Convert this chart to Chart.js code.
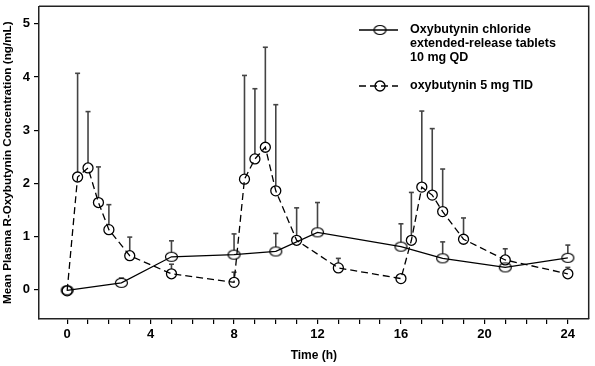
<!DOCTYPE html>
<html><head><meta charset="utf-8">
<script src="https://cdn.jsdelivr.net/npm/chart.js@4/dist/chart.umd.min.js"></script>
<style>html,body{margin:0;padding:0;background:#fff}#wrap{width:595px;height:366px;position:relative}</style>
</head><body><div id="wrap"><canvas id="c" width="595" height="366"></canvas></div>
<script>
// ---- data ----
const qdTimes  = [0, 2.6, 5, 8, 10, 12, 16, 18, 21, 24];
const qdMeans  = [-0.01, 0.13, 0.62, 0.66, 0.72, 1.08, 0.81, 0.59, 0.42, 0.60];
const qdUpper  = [null, 0.22, 0.92, 1.05, 1.06, 1.64, 1.24, 0.90, null, 0.84];
const tidTimes = [0, 0.5, 1, 1.5, 2, 3, 5, 8, 8.5, 9, 9.5, 10, 11, 13, 16, 16.5, 17, 17.5, 18, 19, 21, 24];
const tidMeans = [-0.02, 2.12, 2.29, 1.64, 1.13, 0.64, 0.30, 0.14, 2.08, 2.46, 2.68, 1.86, 0.93, 0.41, 0.21, 0.93, 1.93, 1.78, 1.47, 0.95, 0.56, 0.30];
const tidUpper = [null, 4.07, 3.35, 2.31, 1.60, 0.99, 0.48, 0.33, 4.03, 3.78, 4.56, 3.48, 1.54, 0.59, null, 1.83, 3.36, 3.03, 2.27, 1.35, 0.77, 0.42];
const xTickValues = [0,1,2,3,4,5,6,7,8,9,10,11,12,13,14,15,16,17,18,19,20,21,22,23,24];
const xTickLabels = [0, 4, 8, 12, 16, 20, 24];
const yTickValues = [0, 1, 2, 3, 4, 5];
const seriesNames = ['Oxybutynin chloride\nextended-release tablets\n10 mg QD', 'oxybutynin 5 mg TID'];
const xTitle = 'Time (h)';
const yTitle = 'Mean Plasma R-Oxybutynin Concentration (ng/mL)';

const FAMILY = '"Liberation Sans", Arial, sans-serif';

function ellipseImg(w, h) {
  const c = document.createElement('canvas');
  c.width = w + 3; c.height = h + 3;
  const g = c.getContext('2d');
  g.lineWidth = 1.2; g.strokeStyle = '#000';
  g.beginPath(); g.ellipse(c.width / 2, c.height / 2, w / 2, h / 2, 0, 0, Math.PI * 2); g.stroke();
  return c;
}
const qdMarker = ellipseImg(12, 9);

const errorBars = {
  id: 'errorBars',
  beforeDatasetsDraw(chart) {
    const {ctx, scales: {x, y}} = chart;
    const sets = [[qdTimes, qdMeans, qdUpper, 4.5], [tidTimes, tidMeans, tidUpper, 5]];
    ctx.save();
    ctx.strokeStyle = '#444'; ctx.lineWidth = 1.6;
    sets.forEach(([t, m, u, r]) => {
      t.forEach((tv, i) => {
        if (u[i] == null) return;
        const px = x.getPixelForValue(tv);
        const y0 = y.getPixelForValue(m[i]) - r;
        const y1 = y.getPixelForValue(u[i]);
        ctx.beginPath(); ctx.moveTo(px, y0); ctx.lineTo(px, y1); ctx.stroke();
        ctx.beginPath(); ctx.moveTo(px - 2.5, y1); ctx.lineTo(px + 2.5, y1); ctx.stroke();
      });
    });
    ctx.restore();
  }
};

const frame = {
  id: 'frame',
  afterDraw(chart) {
    const {ctx, chartArea: a} = chart;
    ctx.save();
    ctx.strokeStyle = '#222'; ctx.lineWidth = 1.5;
    ctx.beginPath();
    ctx.moveTo(a.left, a.top); ctx.lineTo(a.right, a.top); ctx.lineTo(a.right, a.bottom);
    ctx.stroke();
    ctx.restore();
  }
};

const legendBox = {
  id: 'legendBox',
  afterDraw(chart) {
    const ctx = chart.ctx;
    ctx.save();
    const x0 = 359, x1 = 398, mx = 380, tx = 410;
    let yy = 30;
    ctx.strokeStyle = '#000'; ctx.lineWidth = 1.3; ctx.setLineDash([]);
    ctx.beginPath(); ctx.moveTo(x0, yy); ctx.lineTo(x1, yy); ctx.stroke();
    ctx.drawImage(qdMarker, mx - qdMarker.width / 2, yy - qdMarker.height / 2);
    ctx.fillStyle = '#000';
    ctx.font = 'bold 12.5px ' + FAMILY;
    ctx.textBaseline = 'middle'; ctx.textAlign = 'left';
    seriesNames[0].split('\n').forEach((ln, i) => ctx.fillText(ln, tx, yy + i * 13.8));
    yy = 86;
    ctx.setLineDash([7, 4]);
    ctx.beginPath(); ctx.moveTo(x0, yy); ctx.lineTo(x1, yy); ctx.stroke();
    ctx.setLineDash([]);
    ctx.beginPath(); ctx.arc(mx, yy, 5, 0, Math.PI * 2); ctx.stroke();
    ctx.fillText(seriesNames[1], tx, yy);
    ctx.restore();
  }
};

new Chart(document.getElementById('c'), {
  type: 'line',
  data: {
    datasets: [
      {
        label: 'QD',
        data: qdTimes.map((t, i) => ({x: t, y: qdMeans[i]})),
        borderColor: '#000', borderWidth: 1.3,
        pointStyle: qdMarker, pointRadius: 5,
        pointBorderColor: '#000', pointBackgroundColor: 'rgba(0,0,0,0)',
        tension: 0
      },
      {
        label: 'TID',
        data: tidTimes.map((t, i) => ({x: t, y: tidMeans[i]})),
        borderColor: '#000', borderWidth: 1.3, borderDash: [7, 4],
        pointStyle: 'circle', pointRadius: 5, pointBorderWidth: 1.3,
        pointBorderColor: '#000', pointBackgroundColor: 'rgba(0,0,0,0)',
        tension: 0
      }
    ]
  },
  options: {
    responsive: false, animation: false, devicePixelRatio: 1,
    layout: {padding: {top: 2, right: 5, left: 0, bottom: 0}},
    plugins: {legend: {display: false}, tooltip: {enabled: false}},
    scales: {
      x: {
        type: 'linear', min: -1.35, max: 25,
        afterBuildTicks: s => { s.ticks = xTickValues.map(v => ({value: v})); },
        afterFit: s => { s.height = 47; s.paddingLeft = 0; s.paddingRight = 0; },
        ticks: {
          autoSkip: false, maxRotation: 0, padding: 3, color: '#000',
          font: {family: FAMILY, size: 13, weight: 'bold'},
          callback: v => xTickLabels.includes(v) ? String(v) : ''
        },
        grid: {drawOnChartArea: false, drawTicks: true, tickLength: 5, color: '#000', lineWidth: 1.2},
        border: {display: true, color: '#222', width: 1.5},
        title: {display: true, text: xTitle, color: '#000', font: {family: FAMILY, size: 12, weight: 'bold'}, padding: {top: 0, bottom: 3}}
      },
      y: {
        type: 'linear', min: -0.55, max: 5.33,
        afterBuildTicks: s => { s.ticks = yTickValues.map(v => ({value: v})); },
        afterFit: s => { s.width = 39; s.paddingTop = 0; s.paddingBottom = 0; },
        ticks: {
          padding: 4, color: '#000',
          font: {family: FAMILY, size: 13, weight: 'bold'},
          callback: v => String(v)
        },
        grid: {drawOnChartArea: false, drawTicks: true, tickLength: 5, color: '#000', lineWidth: 1.2},
        border: {display: true, color: '#222', width: 1.5},
        title: {display: true, text: yTitle, color: '#000', font: {family: FAMILY, size: 11.7, weight: 'bold'}, padding: {top: 1, bottom: 0}}
      }
    }
  },
  plugins: [errorBars, frame, legendBox]
});
</script>
</body></html>
